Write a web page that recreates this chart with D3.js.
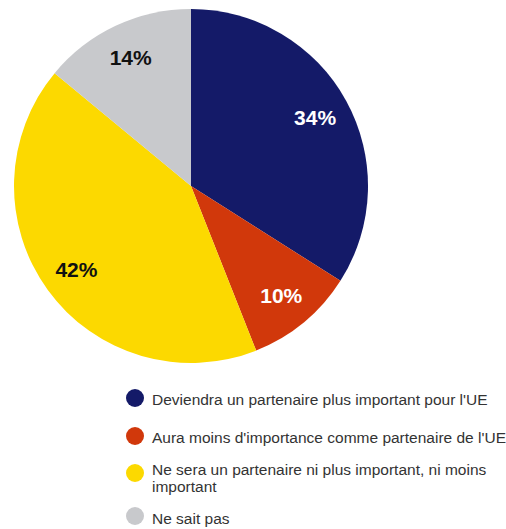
<!DOCTYPE html>
<html>
<head>
<meta charset="utf-8">
<script src="https://cdn.jsdelivr.net/npm/d3@7"></script>
<style>
  body { margin: 0; background: #fff; }
  text { font-family: "Liberation Sans", Arial, sans-serif; }
</style>
</head>
<body>
<div id="chart"></div>
<script>
// Data
const categories = [
  "Deviendra un partenaire plus important pour l'UE",
  "Aura moins d'importance comme partenaire de l'UE",
  "Ne sera un partenaire ni plus important, ni moins important",
  "Ne sait pas"
];
const values = [34, 10, 42, 14];
const colors = ["#141a68", "#d1380b", "#fcd900", "#c8c9cc"];
const labelColors = ["#fff", "#fff", "#111", "#111"];

// SVG area
const svgWidth = 506;
const svgHeight = 529;
const cx = 191, cy = 186, radius = 177;

const svg = d3.select("#chart")
  .append("svg")
  .attr("width", svgWidth)
  .attr("height", svgHeight);

const pieGroup = svg.append("g")
  .attr("transform", `translate(${cx}, ${cy})`);

const pie = d3.pie().sort(null).value(d => d);
const arcs = pie(values);

const arc = d3.arc().innerRadius(0).outerRadius(radius);
const labelArc = d3.arc().innerRadius(radius * 0.8).outerRadius(radius * 0.8);

pieGroup.selectAll("path")
  .data(arcs)
  .enter()
  .append("path")
  .attr("d", arc)
  .attr("fill", (d, i) => colors[i]);

pieGroup.selectAll("text")
  .data(arcs)
  .enter()
  .append("text")
  .attr("transform", d => `translate(${labelArc.centroid(d)})`)
  .attr("text-anchor", "middle")
  .attr("dy", "0.36em")
  .attr("font-size", 21)
  .attr("font-weight", "bold")
  .attr("fill", (d, i) => labelColors[i])
  .text(d => d.data + "%");

// Legend
const legendX = 135;
const legendY = [398, 436, 473, 516];

const legend = svg.append("g");

const items = legend.selectAll("g")
  .data(categories)
  .enter()
  .append("g")
  .attr("transform", (d, i) => `translate(${legendX}, ${legendY[i]})`);

items.append("circle")
  .attr("r", 9)
  .attr("fill", (d, i) => colors[i]);

// the third label wraps onto two lines
const lines = [
  [categories[0]],
  [categories[1]],
  ["Ne sera un partenaire ni plus important, ni moins", "important"],
  [categories[3]]
];
const textDy = [7, 7, 1.5, 8];

items.append("text")
  .attr("y", (d, i) => textDy[i])
  .attr("font-size", 15.5)
  .attr("fill", "#333")
  .selectAll("tspan")
  .data((d, i) => lines[i])
  .enter()
  .append("tspan")
  .attr("x", 17)
  .attr("dy", (d, j) => j === 0 ? 0 : 17.5)
  .text(d => d);
</script>
</body>
</html>
